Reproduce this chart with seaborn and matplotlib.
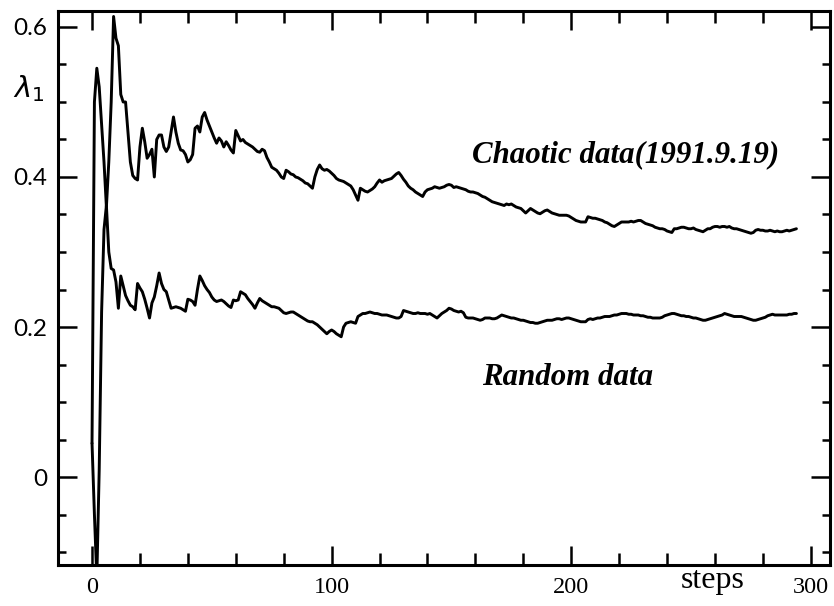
import matplotlib
matplotlib.use("Agg")
import matplotlib.pyplot as plt
from matplotlib.ticker import FixedLocator, MultipleLocator
import pandas as pd
import seaborn as sns

# Largest Lyapunov exponent estimate versus number of evolution steps
steps = list(range(295))

chaotic = [
    0.045, 0.500, 0.545, 0.520, 0.470, 0.420, 0.360, 0.420, 0.500, 0.614,
    0.585, 0.575, 0.510, 0.500, 0.500, 0.460, 0.420, 0.402, 0.398, 0.396,
    0.440, 0.465, 0.447, 0.425, 0.430, 0.437, 0.400, 0.450, 0.456, 0.456,
    0.440, 0.434, 0.440, 0.460, 0.480, 0.460, 0.445, 0.436, 0.435, 0.430,
    0.420, 0.423, 0.430, 0.465, 0.468, 0.460, 0.480, 0.486, 0.476, 0.468,
    0.460, 0.452, 0.445, 0.452, 0.448, 0.440, 0.447, 0.442, 0.436, 0.432,
    0.462, 0.455, 0.448, 0.450, 0.446, 0.444, 0.442, 0.440, 0.437, 0.434,
    0.433, 0.437, 0.435, 0.426, 0.420, 0.413, 0.411, 0.409, 0.405, 0.400,
    0.398, 0.409, 0.407, 0.404, 0.403, 0.400, 0.399, 0.397, 0.395, 0.392,
    0.391, 0.388, 0.385, 0.400, 0.410, 0.416, 0.411, 0.409, 0.410, 0.408,
    0.405, 0.402, 0.398, 0.396, 0.395, 0.394, 0.392, 0.390, 0.388, 0.383,
    0.376, 0.369, 0.385, 0.383, 0.381, 0.380, 0.382, 0.384, 0.387, 0.392,
    0.396, 0.393, 0.395, 0.396, 0.397, 0.398, 0.401, 0.404, 0.406, 0.402,
    0.397, 0.393, 0.388, 0.385, 0.383, 0.380, 0.378, 0.376, 0.374, 0.380,
    0.383, 0.384, 0.385, 0.387, 0.386, 0.385, 0.386, 0.387, 0.389, 0.390,
    0.389, 0.386, 0.387, 0.386, 0.385, 0.384, 0.383, 0.381, 0.380, 0.380,
    0.379, 0.378, 0.376, 0.374, 0.373, 0.371, 0.369, 0.367, 0.366, 0.365,
    0.364, 0.363, 0.362, 0.364, 0.363, 0.364, 0.362, 0.360, 0.359, 0.358,
    0.355, 0.352, 0.355, 0.358, 0.356, 0.354, 0.352, 0.351, 0.353, 0.355,
    0.356, 0.354, 0.352, 0.351, 0.350, 0.349, 0.349, 0.349, 0.349, 0.348,
    0.346, 0.344, 0.342, 0.341, 0.340, 0.340, 0.340, 0.347, 0.346, 0.345,
    0.345, 0.344, 0.343, 0.342, 0.340, 0.339, 0.337, 0.335, 0.334, 0.336,
    0.338, 0.340, 0.340, 0.340, 0.340, 0.341, 0.340, 0.341, 0.342, 0.342,
    0.340, 0.338, 0.337, 0.336, 0.335, 0.333, 0.332, 0.331, 0.331, 0.330,
    0.328, 0.327, 0.326, 0.331, 0.331, 0.332, 0.333, 0.333, 0.332, 0.331,
    0.331, 0.332, 0.330, 0.329, 0.328, 0.327, 0.329, 0.331, 0.331, 0.333,
    0.334, 0.334, 0.333, 0.334, 0.334, 0.333, 0.334, 0.332, 0.331, 0.331,
    0.330, 0.329, 0.328, 0.327, 0.326, 0.325, 0.326, 0.329, 0.330, 0.329,
    0.329, 0.328, 0.328, 0.329, 0.328, 0.327, 0.328, 0.327, 0.327, 0.328,
    0.329, 0.328, 0.329, 0.330, 0.331,
]

random_data = [
    0.045, -0.050, -0.135, 0.010, 0.220, 0.330, 0.362, 0.300, 0.278, 0.276,
    0.260, 0.225, 0.268, 0.255, 0.242, 0.235, 0.229, 0.227, 0.223, 0.258,
    0.252, 0.247, 0.237, 0.225, 0.212, 0.232, 0.240, 0.255, 0.272, 0.258,
    0.250, 0.247, 0.236, 0.225, 0.226, 0.227, 0.226, 0.225, 0.223, 0.221,
    0.237, 0.236, 0.234, 0.229, 0.250, 0.268, 0.262, 0.255, 0.250, 0.246,
    0.240, 0.236, 0.234, 0.235, 0.236, 0.234, 0.231, 0.228, 0.226, 0.236,
    0.235, 0.236, 0.247, 0.245, 0.243, 0.238, 0.234, 0.230, 0.225, 0.232,
    0.238, 0.235, 0.233, 0.231, 0.229, 0.227, 0.227, 0.226, 0.225, 0.222,
    0.219, 0.218, 0.219, 0.220, 0.220, 0.218, 0.216, 0.214, 0.212, 0.210,
    0.208, 0.207, 0.207, 0.205, 0.203, 0.200, 0.197, 0.194, 0.191, 0.194,
    0.196, 0.194, 0.191, 0.189, 0.187, 0.200, 0.205, 0.206, 0.207, 0.206,
    0.205, 0.214, 0.216, 0.218, 0.218, 0.219, 0.220, 0.219, 0.218, 0.218,
    0.217, 0.216, 0.216, 0.216, 0.215, 0.214, 0.213, 0.212, 0.212, 0.214,
    0.222, 0.221, 0.220, 0.219, 0.218, 0.218, 0.219, 0.218, 0.218, 0.218,
    0.217, 0.218, 0.216, 0.214, 0.212, 0.215, 0.218, 0.220, 0.222, 0.225,
    0.224, 0.222, 0.221, 0.220, 0.221, 0.219, 0.213, 0.212, 0.212, 0.212,
    0.211, 0.210, 0.209, 0.210, 0.212, 0.212, 0.212, 0.211, 0.211, 0.212,
    0.214, 0.216, 0.215, 0.214, 0.213, 0.212, 0.212, 0.211, 0.210, 0.209,
    0.209, 0.208, 0.207, 0.206, 0.206, 0.205, 0.205, 0.206, 0.207, 0.208,
    0.209, 0.209, 0.209, 0.210, 0.211, 0.211, 0.210, 0.211, 0.212, 0.212,
    0.211, 0.210, 0.209, 0.208, 0.207, 0.207, 0.207, 0.210, 0.211, 0.210,
    0.211, 0.212, 0.212, 0.213, 0.214, 0.214, 0.214, 0.215, 0.216, 0.216,
    0.217, 0.218, 0.218, 0.218, 0.217, 0.217, 0.216, 0.216, 0.216, 0.215,
    0.215, 0.214, 0.213, 0.213, 0.212, 0.212, 0.212, 0.212, 0.213, 0.215,
    0.216, 0.217, 0.218, 0.218, 0.217, 0.216, 0.215, 0.215, 0.214, 0.214,
    0.213, 0.212, 0.212, 0.211, 0.210, 0.209, 0.209, 0.210, 0.211, 0.212,
    0.213, 0.214, 0.215, 0.216, 0.218, 0.217, 0.216, 0.215, 0.214, 0.214,
    0.214, 0.214, 0.213, 0.212, 0.211, 0.210, 0.209, 0.209, 0.210, 0.211,
    0.212, 0.213, 0.215, 0.216, 0.217, 0.216, 0.216, 0.216, 0.216, 0.216,
    0.216, 0.217, 0.217, 0.218, 0.218,
]

series_names = ["Chaotic data(1991.9.19)", "Random data"]
x_major = [0, 100, 200, 300]
y_major = [0.0, 0.2, 0.4, 0.6]
y_labels = ["0", "0.2", "0.4", "0.6"]

sns.set_theme(style="ticks")
plt.rcParams["font.family"] = ["Liberation Serif", "DejaVu Sans"]

df = pd.DataFrame({
    "step": steps + steps,
    "lam": chaotic + random_data,
    "series": [series_names[0]] * len(steps) + [series_names[1]] * len(steps),
})

W, H = 834, 606
fig = plt.figure(figsize=(W / 100, H / 100), dpi=100)
fig.patch.set_facecolor("white")
ax = fig.add_axes([58 / W, 1 - 565 / H, (829.5 - 58) / W, (565 - 11) / H])
ax.set_facecolor("white")

sns.lineplot(data=df, x="step", y="lam", hue="series",
             palette=["black", "black"], linewidth=2.1, legend=False,
             estimator=None, sort=False, ax=ax)

ax.set_xlim(-14.2, 307.8)
ax.set_ylim(-0.1173, 0.6213)
ax.set_xlabel("")
ax.set_ylabel("")

ax.xaxis.set_major_locator(FixedLocator(x_major))
ax.xaxis.set_minor_locator(MultipleLocator(20))
ax.yaxis.set_major_locator(FixedLocator(y_major))
ax.yaxis.set_minor_locator(MultipleLocator(0.05))
ax.set_xticklabels([str(v) for v in x_major])
ax.set_yticklabels(y_labels)

ax.tick_params(which="both", direction="in", top=True, right=True,
               width=1.8, color="black", labelcolor="black")
ax.tick_params(axis="x", which="major", length=13.5, pad=8.5,
               labelsize=17.5, labelfontfamily="Liberation Serif")
ax.tick_params(axis="x", which="minor", length=8.5)
ax.tick_params(axis="y", which="major", length=14, pad=8,
               labelsize=17.5, labelfontfamily="Lato")
ax.tick_params(axis="y", which="minor", length=6)

for sp in ax.spines.values():
    sp.set_linewidth(2.2)
    sp.set_color("black")

# curve annotations
ax.text(158.6, 0.42, series_names[0], fontstyle="italic", fontweight="bold",
        fontsize=22.2, ha="left", va="baseline", color="black")
ax.text(162.8, 0.1227, series_names[1], fontstyle="italic", fontweight="bold",
        fontsize=22.2, ha="left", va="baseline", color="black")

# axis names placed beside the tick labels
fig.text(713 / W, 1 - 588 / H, "steps", ha="center", va="baseline",
         fontsize=23, color="black")
fig.text(13 / W, 1 - 97 / H, r"$\lambda_1$", ha="left", va="baseline",
         fontsize=21, color="black")

fig.savefig("out.png", dpi=100, facecolor="white")
